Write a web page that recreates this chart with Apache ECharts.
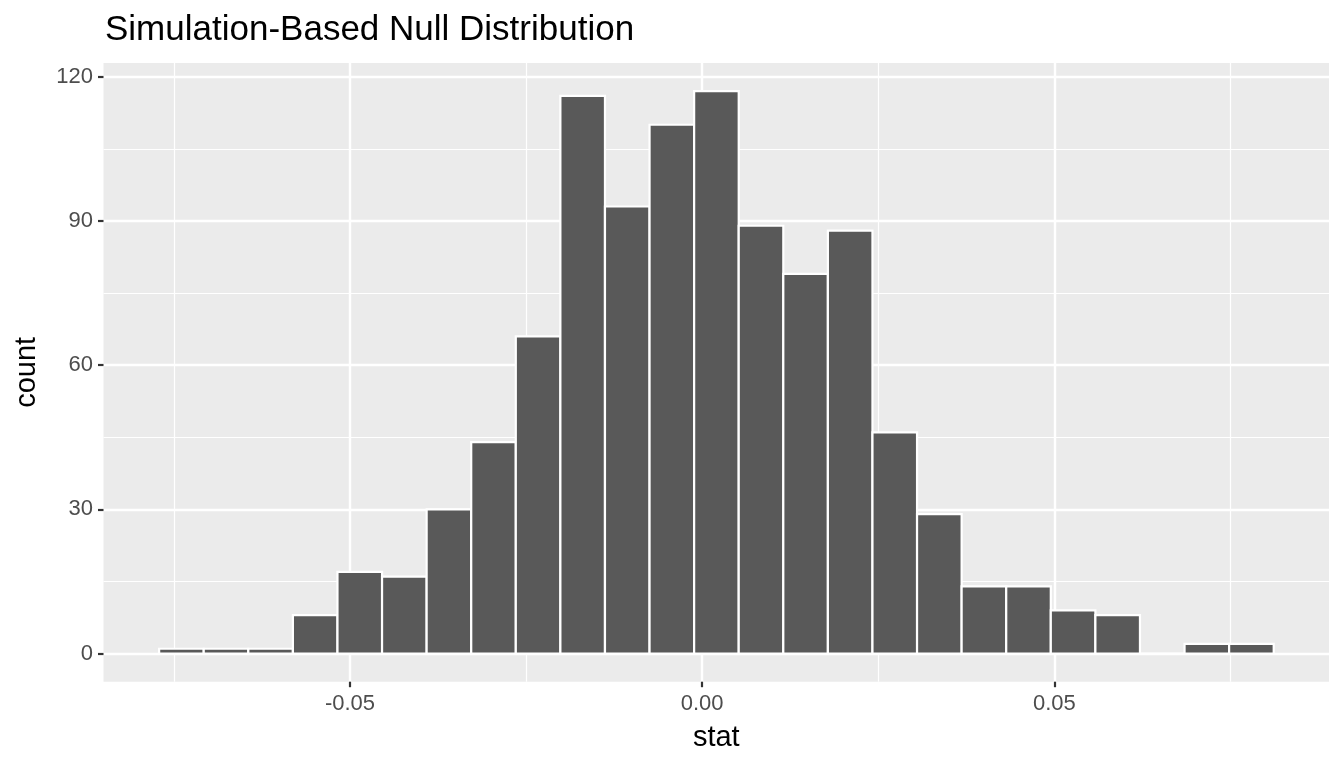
<!DOCTYPE html>
<html lang="en">
  <head>
    <meta charset="UTF-8" />
    <title>Simulation-Based Null Distribution</title>
    <script src="https://cdn.jsdelivr.net/npm/echarts@6.0.0/dist/echarts.min.js"></script>
    <style>
      html, body { margin: 0; padding: 0; background: #fff; }
      #chart { width: 1344px; height: 768px; }
    </style>
  </head>
  <body>
    <div id="chart"></div>

    <script type="text/javascript">
      // histogram bins: first left edge and bin width (stat units)
      const binStart = -0.0771;
      const binWidth = 0.00633;
      // counts per bin, left to right
      const counts = [1, 1, 1, 8, 17, 16, 30, 44, 66, 116, 93, 110, 117,
                      89, 79, 88, 46, 29, 14, 14, 9, 8, 0, 2, 2];

      const xBreaks = [-0.05, 0, 0.05];
      const xMinorBreaks = [-0.075, -0.025, 0.025, 0.075];
      const yBreaks = [0, 30, 60, 90, 120];
      const yMinorBreaks = [15, 45, 75, 105];

      const font = "'Liberation Sans', Arial, sans-serif";

      // [left edge, right edge, count]
      const bins = counts.map((c, i) => [
        binStart + i * binWidth,
        binStart + (i + 1) * binWidth,
        c,
      ]);

      const chart = echarts.init(document.getElementById("chart"));

      // axes that only draw the thin minor grid lines
      const minorAxis = {
        type: "value",
        axisLine: { show: false, onZero: false },
        splitLine: { show: true, lineStyle: { color: "#fff", width: 1.2 } },
      };

      let options = {
        animation: false,
        title: {
          text: "Simulation-Based Null Distribution",
          left: 100,
          top: 8,
          textStyle: { fontFamily: font, fontSize: 35, fontWeight: "normal", color: "#000" },
        },
        grid: {
          left: 103.5,
          right: 15,
          top: 63,
          bottom: 86.3,
          show: true,
          backgroundColor: "#EBEBEB",
          borderWidth: 0,
          containLabel: false,
          outerBoundsMode: "none",
        },
        xAxis: [
          Object.assign({}, minorAxis, {
            position: "bottom",
            min: -0.085,
            max: 0.089,
            axisTick: { show: false, customValues: xMinorBreaks },
            axisLabel: { show: false, customValues: xMinorBreaks },
          }),
          {
            type: "value",
            position: "bottom",
            min: -0.085,
            max: 0.089,
            name: "stat",
            nameLocation: "middle",
            nameGap: 42,
            nameTextStyle: { fontFamily: font, fontSize: 29, color: "#000" },
            axisLine: { show: false, onZero: false },
            axisTick: {
              show: true,
              length: 5.5,
              customValues: xBreaks,
              lineStyle: { color: "#333", width: 2.2 },
            },
            axisLabel: {
              customValues: xBreaks,
              margin: 11,
              fontFamily: font,
              fontSize: 22,
              color: "#4D4D4D",
              formatter: (v) => v.toFixed(2),
            },
            splitLine: { show: true, lineStyle: { color: "#fff", width: 2.4 } },
          },
        ],
        yAxis: [
          Object.assign({}, minorAxis, {
            position: "left",
            min: -5.85,
            max: 122.85,
            axisTick: { show: false, customValues: yMinorBreaks },
            axisLabel: { show: false, customValues: yMinorBreaks },
          }),
          {
            type: "value",
            position: "left",
            min: -5.85,
            max: 122.85,
            name: "count",
            nameLocation: "middle",
            nameGap: 62,
            nameTextStyle: { fontFamily: font, fontSize: 29, color: "#000" },
            axisLine: { show: false, onZero: false },
            axisTick: {
              show: true,
              length: 5.5,
              customValues: yBreaks,
              lineStyle: { color: "#333", width: 2.2 },
            },
            axisLabel: {
              customValues: yBreaks,
              margin: 10.5,
              fontFamily: font,
              fontSize: 22,
              color: "#4D4D4D",
            },
            splitLine: { show: true, lineStyle: { color: "#fff", width: 2.4 } },
          },
        ],
        series: [
          {
            type: "custom",
            xAxisIndex: 1,
            yAxisIndex: 1,
            data: bins,
            encode: { x: [0, 1], y: 2 },
            renderItem: function (params, api) {
              const topLeft = api.coord([api.value(0), api.value(2)]);
              const bottomRight = api.coord([api.value(1), 0]);
              return {
                type: "rect",
                shape: {
                  x: topLeft[0],
                  y: topLeft[1],
                  width: bottomRight[0] - topLeft[0],
                  height: bottomRight[1] - topLeft[1],
                },
                style: { fill: "#595959", stroke: "#fff", lineWidth: 2.2 },
              };
            },
          },
        ],
      };

      chart.setOption(options);
    </script>
  </body>
</html>
